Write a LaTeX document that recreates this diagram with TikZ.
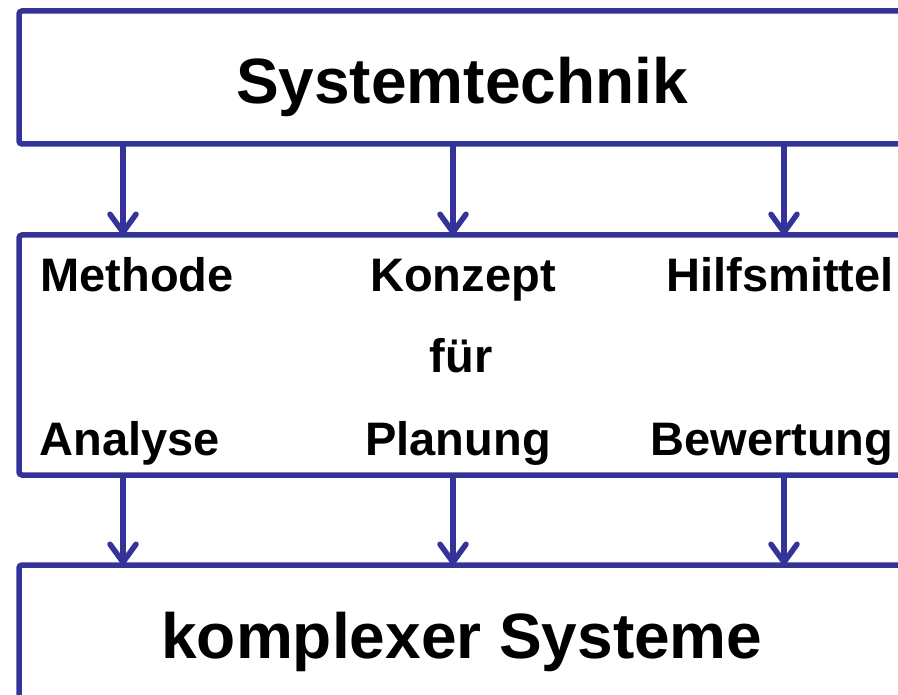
\documentclass[tikz,border=0pt]{standalone}
\usepackage{fontspec}
\setmainfont{Liberation Sans}
\usetikzlibrary{arrows.meta}
\definecolor{frameblue}{RGB}{51,51,153}
\tikzset{
  panel/.style={draw=frameblue, line width=5.5pt, rounded corners=3pt, outer sep=0pt, inner sep=0pt, anchor=north west},
  bigtext/.style={font=\bfseries\fontsize{64}{70}\selectfont, anchor=base, inner sep=0pt},
  colword/.style={font=\bfseries\fontsize{47}{52}\selectfont, anchor=base, inner sep=0pt},
  flow/.style={draw=frameblue, line width=5.5pt, -{Straight Barb[length=18pt,width=26pt,line width=5.5pt,round]}}
}
\begin{document}
\begin{tikzpicture}[x=1pt, y=-1pt]
        % Page frame (the boxes run past the right and bottom edges)
        \useasboundingbox (0,0) rectangle (898,695);
        \clip (0,0) rectangle (898,695);

        % Column positions of the arrows
        \coordinate (c1) at (123,0);
        \coordinate (c2) at (453,0);
        \coordinate (c3) at (784,0);

        % The three boxes
        \node[panel, minimum width=1000pt, minimum height=133pt] (sys) at (19,11) {};
        \node[panel, minimum width=1000pt, minimum height=240pt] (mid) at (19,235) {};
        \node[panel, minimum width=1000pt, minimum height=200pt] (cplx) at (19,565) {};

        % Texts
        \node[bigtext] (systxt) at (462,104) {Systemtechnik};
        \node[colword] (meth) at (137,292) {Methode};
        \node[colword] (konz) at (463,292) {Konzept};
        \node[colword] (hilf) at (780,292) {Hilfsmittel};
        \node[colword] (fuer) at (461,373) {für};
        \node[colword] (anal) at (130,455) {Analyse};
        \node[colword] (plan) at (458,455) {Planung};
        \node[colword] (bew) at (772,455) {Bewertung};
        \node[bigtext] (cplxtxt) at (462,658) {komplexer Systeme};

        % Arrows between the boxes
        \foreach \c in {c1,c2,c3} {
            \draw[flow] (sys.south -| \c) -- (mid.north -| \c);
            \draw[flow] (mid.south -| \c) -- (cplx.north -| \c);
        }
\end{tikzpicture}
\end{document}
